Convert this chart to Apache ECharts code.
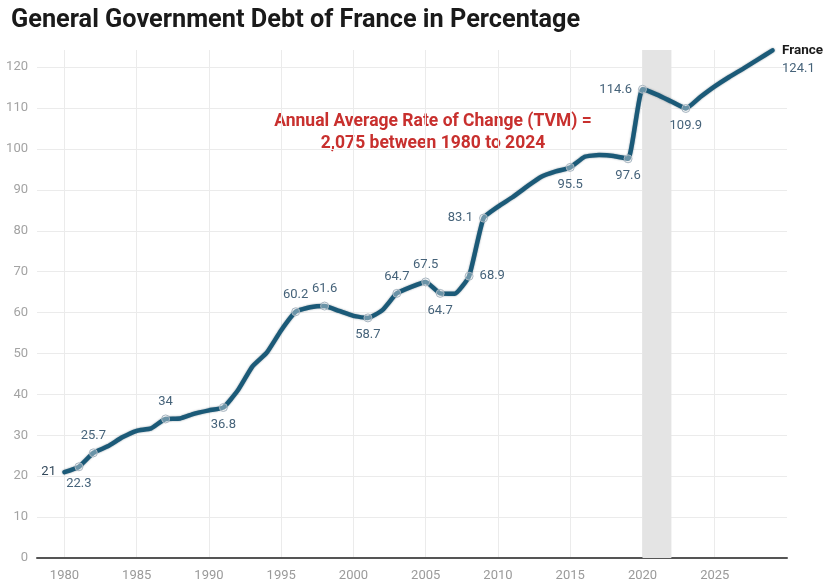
<!DOCTYPE html>
<html>
<head>
<meta charset="utf-8">
<script src="https://cdn.jsdelivr.net/npm/echarts@6/dist/echarts.min.js"></script>
<style>
  html, body { margin: 0; padding: 0; background: #ffffff; }
  #chart { width: 830px; height: 582px; }
</style>
</head>
<body>
<div id="chart"></div>
<script>
// General government debt of France, % of GDP
const years = [
  1980, 1981, 1982, 1983, 1984, 1985, 1986, 1987, 1988, 1989,
  1990, 1991, 1992, 1993, 1994, 1995, 1996, 1997, 1998, 1999,
  2000, 2001, 2002, 2003, 2004, 2005, 2006, 2007, 2008, 2009,
  2010, 2011, 2012, 2013, 2014, 2015, 2016, 2017, 2018, 2019,
  2020, 2021, 2022, 2023, 2024, 2025, 2026, 2027, 2028, 2029
];
const debt = [
  21.0, 22.3, 25.7, 27.3, 29.5, 31.1, 31.7, 34.0, 34.1, 35.3,
  36.1, 36.8, 41.0, 46.8, 50.2, 55.7, 60.2, 61.3, 61.6, 60.4,
  59.2, 58.7, 60.6, 64.7, 66.3, 67.5, 64.7, 64.6, 68.9, 83.1,
  85.9, 88.2, 90.8, 93.2, 94.5, 95.5, 98.1, 98.5, 98.3, 97.6,
  114.6, 113.3, 111.6, 109.9, 112.7, 115.3, 117.6, 119.7, 121.9, 124.1
];
const seriesName = 'France';
const labelledYears = [1980, 1981, 1982, 1987, 1991, 1996, 1998, 2001, 2003, 2005, 2006, 2008, 2009, 2015, 2019, 2020, 2023, 2029];
const xTickLabels = [1980, 1985, 1990, 1995, 2000, 2005, 2010, 2015, 2020, 2025];
const yTickLabels = [0, 10, 20, 30, 40, 50, 60, 70, 80, 90, 100, 110, 120];
const shadedSpan = [2020, 2022];
const noteLines = ['Annual Average Rate of Change (TVM) =', '2,075 between 1980 to 2024'];
const chartTitle = 'General Government Debt of France in Percentage';

// where each value label sits relative to its point
const labelSide = {
  1980: 'left', 1981: 'bottom', 1982: 'top', 1987: 'top', 1991: 'bottom',
  1996: 'top', 1998: 'top', 2001: 'bottom', 2003: 'top', 2005: 'top',
  2006: 'bottom', 2008: 'right', 2009: 'left', 2015: 'bottom', 2019: 'bottom',
  2020: 'left', 2023: 'bottom', 2029: 'right'
};

const FONT = 'Roboto, "Noto Sans", sans-serif';
const LINE = '#1b5a78';
const LABEL = '#46637a';
const firstYear = years[0];
const lastYear = years[years.length - 1];

const points = years.map((y, i) => {
  const v = debt[i];
  if (!labelledYears.includes(y)) {
    return { value: [y, v], symbol: 'none' };
  }
  const bare = (y === firstYear || y === lastYear);
  const item = {
    value: [y, v],
    symbol: 'circle',
    symbolSize: bare ? 1 : 8,
    itemStyle: bare ? { color: 'rgba(0,0,0,0)', borderWidth: 0 } : undefined,
    label: {
      show: true,
      position: labelSide[y],
      distance: 6,
      color: LABEL,
      fontSize: 13,
      fontFamily: FONT,
      formatter: () => String(v)
    }
  };
  if (y === firstYear) {
    item.label.color = '#33495c';
    item.label.distance = 8;
  }
  if (y === lastYear) {
    // series name above the final value, hanging just right of the line end
    item.label.formatter = () => '{n|' + seriesName + '}\n{v|' + v + '}';
    item.label.position = [10, -8];
    item.label.align = 'left';
    item.label.verticalAlign = 'top';
    item.label.rich = {
      n: { fontWeight: 'bold', color: '#1a1a1a', fontSize: 13.5, fontFamily: FONT, lineHeight: 18 },
      v: { color: LABEL, fontSize: 13, fontFamily: FONT, lineHeight: 18 }
    };
  }
  return item;
});

const chart = echarts.init(document.getElementById('chart'), null, { renderer: 'canvas' });
chart.setOption({
  backgroundColor: '#ffffff',
  animation: false,
  title: {
    text: chartTitle,
    left: 6,
    top: 3,
    textStyle: { fontFamily: FONT, fontWeight: 'bold', fontSize: 25.3, color: '#1a1a1a' }
  },
  grid: { left: 37, right: 43, top: 50, bottom: 24, containLabel: false },
  xAxis: {
    type: 'value',
    min: 1978.1,
    max: 2030,
    axisLine: { show: true, onZero: true, lineStyle: { color: '#555555', width: 2 } },
    axisTick: { show: false, customValues: xTickLabels },
    axisLabel: {
      customValues: xTickLabels,
      color: '#9a9a9a',
      fontSize: 13,
      fontFamily: FONT,
      margin: 11,
      formatter: v => String(v)
    },
    splitLine: { show: true, lineStyle: { color: '#ebebeb', width: 1 } }
  },
  yAxis: {
    type: 'value',
    min: 0,
    max: 124.2,
    axisLine: { show: false },
    axisTick: { show: false, customValues: yTickLabels },
    axisLabel: {
      customValues: yTickLabels,
      color: '#a3a3a3',
      fontSize: 13,
      fontFamily: FONT,
      margin: 9
    },
    splitLine: { show: true, lineStyle: { color: '#ebebeb', width: 1 } }
  },
  graphic: [{
    type: 'text',
    x: 433,
    y: 111,
    style: {
      text: noteLines.join('\n'),
      textAlign: 'center',
      fill: '#c8302e',
      fontFamily: FONT,
      fontWeight: 'bold',
      fontSize: 17.5,
      lineHeight: 22
    }
  }],
  series: [{
    name: seriesName,
    type: 'line',
    data: points,
    smooth: 0.15,
    clip: false,
    lineStyle: {
      color: LINE,
      width: 4.5,
      cap: 'round',
      join: 'round',
      shadowColor: 'rgba(5,35,55,0.45)',
      shadowBlur: 2
    },
    itemStyle: { color: 'rgba(255,255,255,0.35)', borderColor: '#a7b5c0', borderWidth: 1 },
    labelLayout: { hideOverlap: false },
    emphasis: { disabled: true },
    z: 3,
    markArea: {
      silent: true,
      itemStyle: { color: '#e4e4e4' },
      data: [[{ xAxis: shadedSpan[0] }, { xAxis: shadedSpan[1] }]]
    }
  }]
});
</script>
</body>
</html>
